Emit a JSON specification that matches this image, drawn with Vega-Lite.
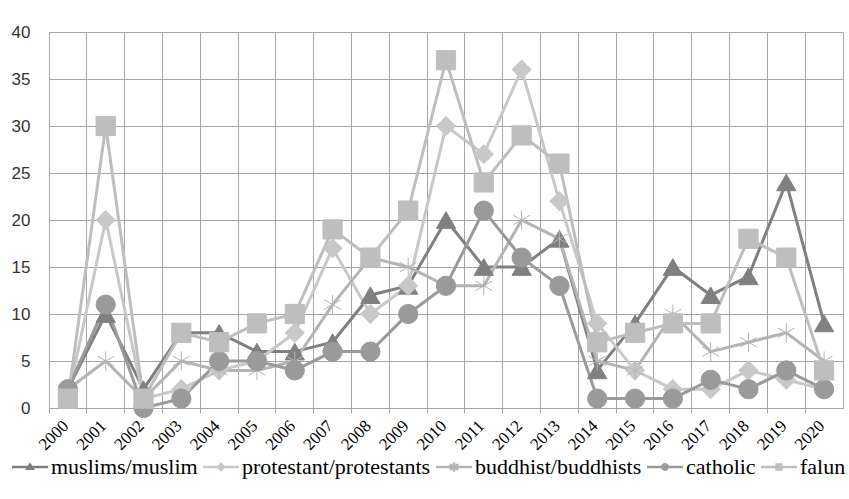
{
  "$schema": "https://vega.github.io/schema/vega-lite/v6.json",
  "width": 794,
  "height": 376,
  "autosize": "none",
  "padding": {"left": 49, "top": 32, "right": 6, "bottom": 91},
  "background": "white",
  "config": {
    "view": {"stroke": "#a6a6a6", "strokeWidth": 1},
    "font": "Liberation Sans"
  },
  "data": {
    "values": [
      {"year": "2000", "series": "muslims/muslim", "count": 2},
      {"year": "2001", "series": "muslims/muslim", "count": 10},
      {"year": "2002", "series": "muslims/muslim", "count": 2},
      {"year": "2003", "series": "muslims/muslim", "count": 8},
      {"year": "2004", "series": "muslims/muslim", "count": 8},
      {"year": "2005", "series": "muslims/muslim", "count": 6},
      {"year": "2006", "series": "muslims/muslim", "count": 6},
      {"year": "2007", "series": "muslims/muslim", "count": 7},
      {"year": "2008", "series": "muslims/muslim", "count": 12},
      {"year": "2009", "series": "muslims/muslim", "count": 13},
      {"year": "2010", "series": "muslims/muslim", "count": 20},
      {"year": "2011", "series": "muslims/muslim", "count": 15},
      {"year": "2012", "series": "muslims/muslim", "count": 15},
      {"year": "2013", "series": "muslims/muslim", "count": 18},
      {"year": "2014", "series": "muslims/muslim", "count": 4},
      {"year": "2015", "series": "muslims/muslim", "count": 9},
      {"year": "2016", "series": "muslims/muslim", "count": 15},
      {"year": "2017", "series": "muslims/muslim", "count": 12},
      {"year": "2018", "series": "muslims/muslim", "count": 14},
      {"year": "2019", "series": "muslims/muslim", "count": 24},
      {"year": "2020", "series": "muslims/muslim", "count": 9},

      {"year": "2000", "series": "protestant/protestants", "count": 1},
      {"year": "2001", "series": "protestant/protestants", "count": 20},
      {"year": "2002", "series": "protestant/protestants", "count": 1},
      {"year": "2003", "series": "protestant/protestants", "count": 2},
      {"year": "2004", "series": "protestant/protestants", "count": 4},
      {"year": "2005", "series": "protestant/protestants", "count": 5},
      {"year": "2006", "series": "protestant/protestants", "count": 8},
      {"year": "2007", "series": "protestant/protestants", "count": 17},
      {"year": "2008", "series": "protestant/protestants", "count": 10},
      {"year": "2009", "series": "protestant/protestants", "count": 13},
      {"year": "2010", "series": "protestant/protestants", "count": 30},
      {"year": "2011", "series": "protestant/protestants", "count": 27},
      {"year": "2012", "series": "protestant/protestants", "count": 36},
      {"year": "2013", "series": "protestant/protestants", "count": 22},
      {"year": "2014", "series": "protestant/protestants", "count": 9},
      {"year": "2015", "series": "protestant/protestants", "count": 4},
      {"year": "2016", "series": "protestant/protestants", "count": 2},
      {"year": "2017", "series": "protestant/protestants", "count": 2},
      {"year": "2018", "series": "protestant/protestants", "count": 4},
      {"year": "2019", "series": "protestant/protestants", "count": 3},
      {"year": "2020", "series": "protestant/protestants", "count": 2},

      {"year": "2000", "series": "buddhist/buddhists", "count": 2},
      {"year": "2001", "series": "buddhist/buddhists", "count": 5},
      {"year": "2002", "series": "buddhist/buddhists", "count": 1},
      {"year": "2003", "series": "buddhist/buddhists", "count": 5},
      {"year": "2004", "series": "buddhist/buddhists", "count": 4},
      {"year": "2005", "series": "buddhist/buddhists", "count": 4},
      {"year": "2006", "series": "buddhist/buddhists", "count": 5},
      {"year": "2007", "series": "buddhist/buddhists", "count": 11},
      {"year": "2008", "series": "buddhist/buddhists", "count": 16},
      {"year": "2009", "series": "buddhist/buddhists", "count": 15},
      {"year": "2010", "series": "buddhist/buddhists", "count": 13},
      {"year": "2011", "series": "buddhist/buddhists", "count": 13},
      {"year": "2012", "series": "buddhist/buddhists", "count": 20},
      {"year": "2013", "series": "buddhist/buddhists", "count": 18},
      {"year": "2014", "series": "buddhist/buddhists", "count": 5},
      {"year": "2015", "series": "buddhist/buddhists", "count": 4},
      {"year": "2016", "series": "buddhist/buddhists", "count": 10},
      {"year": "2017", "series": "buddhist/buddhists", "count": 6},
      {"year": "2018", "series": "buddhist/buddhists", "count": 7},
      {"year": "2019", "series": "buddhist/buddhists", "count": 8},
      {"year": "2020", "series": "buddhist/buddhists", "count": 5},

      {"year": "2000", "series": "catholic", "count": 2},
      {"year": "2001", "series": "catholic", "count": 11},
      {"year": "2002", "series": "catholic", "count": 0},
      {"year": "2003", "series": "catholic", "count": 1},
      {"year": "2004", "series": "catholic", "count": 5},
      {"year": "2005", "series": "catholic", "count": 5},
      {"year": "2006", "series": "catholic", "count": 4},
      {"year": "2007", "series": "catholic", "count": 6},
      {"year": "2008", "series": "catholic", "count": 6},
      {"year": "2009", "series": "catholic", "count": 10},
      {"year": "2010", "series": "catholic", "count": 13},
      {"year": "2011", "series": "catholic", "count": 21},
      {"year": "2012", "series": "catholic", "count": 16},
      {"year": "2013", "series": "catholic", "count": 13},
      {"year": "2014", "series": "catholic", "count": 1},
      {"year": "2015", "series": "catholic", "count": 1},
      {"year": "2016", "series": "catholic", "count": 1},
      {"year": "2017", "series": "catholic", "count": 3},
      {"year": "2018", "series": "catholic", "count": 2},
      {"year": "2019", "series": "catholic", "count": 4},
      {"year": "2020", "series": "catholic", "count": 2},

      {"year": "2000", "series": "falun", "count": 1},
      {"year": "2001", "series": "falun", "count": 30},
      {"year": "2002", "series": "falun", "count": 1},
      {"year": "2003", "series": "falun", "count": 8},
      {"year": "2004", "series": "falun", "count": 7},
      {"year": "2005", "series": "falun", "count": 9},
      {"year": "2006", "series": "falun", "count": 10},
      {"year": "2007", "series": "falun", "count": 19},
      {"year": "2008", "series": "falun", "count": 16},
      {"year": "2009", "series": "falun", "count": 21},
      {"year": "2010", "series": "falun", "count": 37},
      {"year": "2011", "series": "falun", "count": 24},
      {"year": "2012", "series": "falun", "count": 29},
      {"year": "2013", "series": "falun", "count": 26},
      {"year": "2014", "series": "falun", "count": 7},
      {"year": "2015", "series": "falun", "count": 8},
      {"year": "2016", "series": "falun", "count": 9},
      {"year": "2017", "series": "falun", "count": 9},
      {"year": "2018", "series": "falun", "count": 18},
      {"year": "2019", "series": "falun", "count": 16},
      {"year": "2020", "series": "falun", "count": 4}
    ]
  },
  "encoding": {
    "x": {
      "field": "year",
      "type": "ordinal",
      "bandPosition": 0.5,
      "scale": {"type": "band", "paddingInner": 0, "paddingOuter": 0},
      "axis": {
        "title": null,
        "bandPosition": 0,
        "labelOffset": -2,
        "labelAngle": -45,
        "labelAlign": "right",
        "labelBaseline": "middle",
        "labelPadding": 10,
        "labelFont": "Liberation Serif",
        "labelFontSize": 17,
        "labelColor": "#000000",
        "grid": true,
        "gridColor": "#a6a6a6",
        "gridOpacity": 1,
        "domainColor": "#a6a6a6",
        "tickColor": "#a6a6a6",
        "tickSize": 5
      }
    },
    "y": {
      "field": "count",
      "type": "quantitative",
      "scale": {"domain": [0, 40], "nice": false, "zero": true},
      "axis": {
        "title": null,
        "values": [0, 5, 10, 15, 20, 25, 30, 35, 40],
        "grid": true,
        "gridColor": "#a6a6a6",
        "gridOpacity": 1,
        "domain": false,
        "ticks": false,
        "labelFont": "Liberation Sans",
        "labelFontSize": 17,
        "labelColor": "#333333",
        "labelPadding": 19
      }
    }
  },
  "layer": [
    {
      "mark": {"type": "line", "strokeWidth": 3},
      "encoding": {
        "color": {
          "field": "series",
          "type": "nominal",
          "scale": {
            "domain": ["muslims/muslim", "protestant/protestants", "buddhist/buddhists", "catholic", "falun"],
            "range": ["#808080", "#c8c8c8", "#b4b4b4", "#9a9a9a", "#bebebe"]
          },
          "legend": null
        }
      }
    },
    {
      "mark": {"type": "point", "filled": true, "opacity": 1, "size": 370, "strokeWidth": 1},
      "encoding": {
        "color": {
          "field": "series",
          "type": "nominal",
          "scale": {
            "domain": ["muslims/muslim", "protestant/protestants", "buddhist/buddhists", "catholic", "falun"],
            "range": ["#808080", "#c8c8c8", "#b4b4b4", "#9a9a9a", "#bebebe"]
          },
          "legend": null
        },
        "stroke": {
          "field": "series",
          "type": "nominal",
          "scale": {
            "domain": ["muslims/muslim", "protestant/protestants", "buddhist/buddhists", "catholic", "falun"],
            "range": ["#808080", "#c8c8c8", "#b4b4b4", "#9a9a9a", "#bebebe"]
          },
          "legend": null
        },
        "shape": {
          "field": "series",
          "type": "nominal",
          "scale": {
            "domain": ["muslims/muslim", "protestant/protestants", "buddhist/buddhists", "catholic", "falun"],
            "range": [
              "triangle-up",
              "diamond",
              "M0,-1L0,1M-0.87,-0.5L0.87,0.5M-0.87,0.5L0.87,-0.5",
              "circle",
              "square"
            ]
          },
          "legend": null
        }
      }
    },
    {
      "mark": {"type": "point", "filled": false, "opacity": 0, "size": 144},
      "encoding": {
        "color": {
          "field": "series",
          "type": "nominal",
          "scale": {
            "domain": ["muslims/muslim", "protestant/protestants", "buddhist/buddhists", "catholic", "falun"],
            "range": ["#808080", "#c8c8c8", "#b4b4b4", "#9a9a9a", "#bebebe"]
          },
          "legend": {
            "orient": "none",
            "legendX": -30,
            "legendY": 424,
            "direction": "horizontal",
            "title": null,
            "symbolSize": 144,
            "symbolOpacity": 1,
            "symbolStrokeWidth": 2.5,
            "labelFont": "Liberation Serif",
            "labelFontSize": 22,
            "labelColor": "#000000",
            "labelLimit": 400,
            "labelOffset": 10,
            "columnPadding": 0
          }
        },
        "shape": {
          "field": "series",
          "type": "nominal",
          "scale": {
            "domain": ["muslims/muslim", "protestant/protestants", "buddhist/buddhists", "catholic", "falun"],
            "range": [
              "M-3,0L3,0M0,-0.4L0.45,0.3L-0.45,0.3Z",
              "M-3,0L3,0M0,-0.5L0.5,0L0,0.5L-0.5,0Z",
              "M-3,0L3,0M0,-0.8L0,0.8M-0.7,-0.45L0.7,0.45M-0.7,0.45L0.7,-0.45",
              "M-3,0L3,0M-0.45,0A0.45,0.45 0 1,0 0.45,0A0.45,0.45 0 1,0 -0.45,0Z",
              "M-3,0L3,0M-0.4,-0.4L0.4,-0.4L0.4,0.4L-0.4,0.4Z"
            ]
          },
          "legend": {
            "orient": "none",
            "legendX": -30,
            "legendY": 424,
            "direction": "horizontal",
            "title": null,
            "symbolSize": 144,
            "symbolOpacity": 1,
            "symbolStrokeWidth": 2.5,
            "labelFont": "Liberation Serif",
            "labelFontSize": 22,
            "labelColor": "#000000",
            "labelLimit": 400,
            "labelOffset": 10,
            "columnPadding": 0
          }
        }
      }
    }
  ],
  "resolve": {"scale": {"shape": "independent", "color": "independent", "stroke": "independent"}}
}
